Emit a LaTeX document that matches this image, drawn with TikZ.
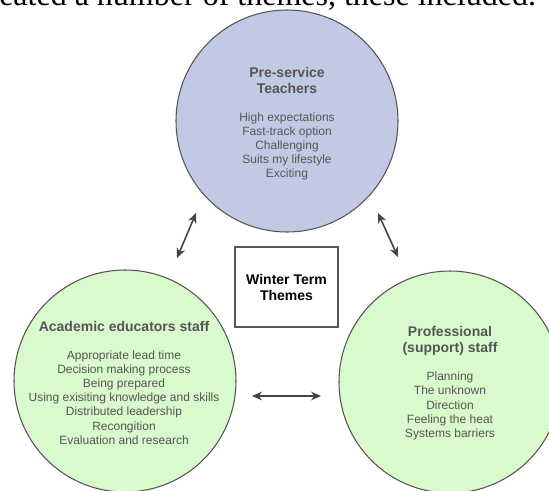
\documentclass[tikz,border=0pt]{standalone}
\usepackage{fontspec}
\usepackage{tikz}
\usetikzlibrary{arrows.meta}
\setmainfont{Liberation Sans}
\newfontfamily\leadserif{Liberation Serif}
\definecolor{pstblue}{HTML}{C2C9E5}
\definecolor{stafgreen}{HTML}{D9FACC}
\definecolor{edgegray}{HTML}{555555}
\definecolor{textgray}{HTML}{555555}
\definecolor{arrowgray}{HTML}{444444}

\begin{document}
\begin{tikzpicture}[x=0.75pt,y=-0.75pt]
        \tikzset{>={Stealth[length=7.5pt,width=6.5pt]}}
        \tikzstyle{theme}=[circle,draw=edgegray,line width=0.8pt,minimum size=166.5pt,inner sep=0pt]
        \tikzstyle{head}=[text=textgray,font=\bfseries\fontsize{10.5}{12}\selectfont,align=center,inner sep=0pt]
        \tikzstyle{items}=[text=textgray,font=\fontsize{9}{10.6}\selectfont,align=center,inner sep=0pt]
        \tikzstyle{link}=[<->,draw=arrowgray,line width=1.2pt]

        \useasboundingbox (0,0) rectangle (549,490);

        % line of the page above the figure, cut at the top
        \node[anchor=base west,inner sep=0pt,font=\leadserif\fontsize{24}{28}\selectfont] (lead) at (-1,5) {eated a number of themes, these included.};

        \node[theme,fill=pstblue] (pst) at (287,121) {};
        \node[theme,fill=stafgreen] (aes) at (125,381) {};
        \node[theme,fill=stafgreen] (pss) at (450,382) {};

        \node[draw=edgegray,line width=0.8pt,minimum width=77.25pt,minimum height=60pt,inner sep=0pt] (wtt) at (286.5,287) {};
        \node[head,text=black] (wttlabel) at (286.5,287) {Winter Term\\Themes};

        \node[head] (psthead) at (287,80.5) {Pre-service\\Teachers};
        \node[items] (pstitems) at (287,146.5) {High expectations\\Fast-track option\\Challenging\\Suits my lifestyle\\Exciting};

        \node[head] (aeshead) at (124,326.5) {Academic educators staff};
        \node[items] (aesitems) at (124,397.5) {Appropriate lead time\\Decision making process\\Being prepared\\Using exisiting knowledge and skills\\Distributed leadership\\Recongition\\Evaluation and research};

        \node[head] (psshead) at (450,341) {Professional\\(support) staff};
        \node[items] (pssitems) at (450,406) {Planning\\The unknown\\Direction\\Feeling the heat\\Systems barriers};

        \coordinate (l1) at (196,213);
        \coordinate (l2) at (177,258);
        \coordinate (r1) at (378,213);
        \coordinate (r2) at (398,257);
        \coordinate (b1) at (252,396);
        \coordinate (b2) at (321,396);

        \draw[link] (l1) to (l2);
        \draw[link] (r1) to (r2);
        \draw[link] (b1) to (b2);
    \end{tikzpicture}
\end{document}
